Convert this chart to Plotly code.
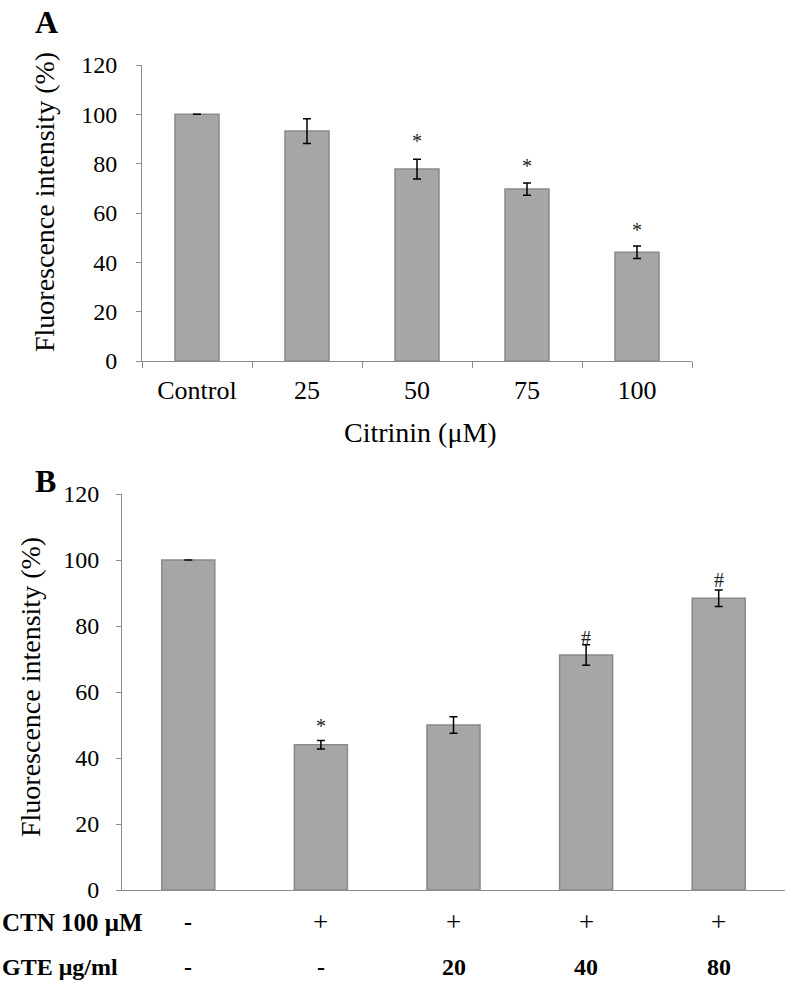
import plotly.graph_objects as go

# ---------------- data ----------------
a_categories = ["Control", "25", "50", "75", "100"]
a_values = [100, 93.2, 77.8, 69.7, 44.1]
a_errors = [0, 5.0, 4.0, 2.5, 2.5]
a_marks = ["", "", "*", "*", "*"]
a_mark_y = [None, None, 89.0, 79.2, 53.0]

b_positions = [0, 1, 2, 3, 4]
b_values = [100, 44.0, 50.0, 71.2, 88.4]
b_errors = [0, 1.3, 2.5, 3.1, 2.5]
b_marks = ["", "*", "", "#", "#"]
b_mark_y = [None, 49.8, None, 76.3, 94.0]
ctn_row = ["-", "+", "+", "+", "+"]
gte_row = ["-", "-", "20", "40", "80"]

y_ticks = [0, 20, 40, 60, 80, 100, 120]

FONT = "Liberation Serif, Times New Roman, serif"
W, H = 787, 982
BAR = "#a6a6a6"
EDGE = "#898989"
AXIS = "#8c8c8c"

def px_x(p):
    return p / W

def px_y(p):
    return 1 - p / H

fig = go.Figure()

fig.add_trace(go.Bar(
    x=a_categories, y=a_values, width=0.4,
    marker=dict(color=BAR, line=dict(color=EDGE, width=1.5)),
    error_y=dict(type="data", array=a_errors, visible=True,
                 color="black", thickness=1.5, width=4),
    xaxis="x", yaxis="y", showlegend=False,
))

fig.add_trace(go.Bar(
    x=b_positions, y=b_values, width=0.4,
    marker=dict(color=BAR, line=dict(color=EDGE, width=1.5)),
    error_y=dict(type="data", array=b_errors, visible=True,
                 color="black", thickness=1.5, width=4),
    xaxis="x2", yaxis="y2", showlegend=False,
))

axis_common = dict(showgrid=False, zeroline=False, showline=True,
                   linecolor=AXIS, linewidth=1, ticks="outside",
                   tickcolor=AXIS, tickwidth=1, automargin=False,
                   tickfont=dict(family=FONT, size=24, color="black"))

fig.update_layout(
    template="none",
    width=W, height=H, autosize=False,
    margin=dict(l=0, r=0, t=0, b=0, pad=0),
    paper_bgcolor="white", plot_bgcolor="white",
    font=dict(family=FONT, color="black"),
    bargap=0.6,
    xaxis=dict(domain=[px_x(142), px_x(692)], anchor="y",
               type="category", range=[-0.5, 4.5], tickson="boundaries",
               ticklen=6, ticklabelstandoff=6, tickangle=0,
               **{k: v for k, v in axis_common.items() if k != "tickfont"},
               tickfont=dict(family=FONT, size=26, color="black")),
    yaxis=dict(domain=[px_y(361), px_y(65)], anchor="x",
               range=[0, 120], tickvals=y_ticks, ticklen=5,
               ticklabelstandoff=14, **axis_common),
    xaxis2=dict(domain=[px_x(122), px_x(785)], anchor="y2",
                range=[-0.5, 4.5], showticklabels=False, ticks="",
                showgrid=False, zeroline=False, showline=True,
                automargin=False, linecolor=AXIS, linewidth=1),
    yaxis2=dict(domain=[px_y(890), px_y(494)], anchor="x2",
                range=[0, 120], tickvals=y_ticks, ticklen=5,
                ticklabelstandoff=12, **axis_common),
)

ann = []
# panel letters
ann.append(dict(text="<b>A</b>", x=px_x(46), y=px_y(22), xref="paper", yref="paper",
                showarrow=False, font=dict(family=FONT, size=32, color="black"),
                xanchor="center", yanchor="middle"))
ann.append(dict(text="<b>B</b>", x=px_x(45), y=px_y(481), xref="paper", yref="paper",
                showarrow=False, font=dict(family=FONT, size=32, color="black"),
                xanchor="center", yanchor="middle"))
# axis titles
ann.append(dict(text="Fluorescence intensity (%)", x=px_x(44), y=px_y(202),
                xref="paper", yref="paper", showarrow=False, textangle=-90,
                font=dict(family=FONT, size=28, color="black"),
                xanchor="center", yanchor="middle"))
ann.append(dict(text="Fluorescence intensity (%)", x=px_x(30), y=px_y(687),
                xref="paper", yref="paper", showarrow=False, textangle=-90,
                font=dict(family=FONT, size=28, color="black"),
                xanchor="center", yanchor="middle"))
ann.append(dict(text="Citrinin (μM)", x=px_x(421), y=px_y(432),
                xref="paper", yref="paper", showarrow=False,
                font=dict(family=FONT, size=28, color="black"),
                xanchor="center", yanchor="middle"))
# significance marks
for i, (m, yy) in enumerate(zip(a_marks, a_mark_y)):
    if m:
        ann.append(dict(text=m, x=i, y=yy, xref="x", yref="y", showarrow=False,
                        font=dict(family=FONT, size=20, color="#222"),
                        xanchor="center", yanchor="middle"))
for p, m, yy in zip(b_positions, b_marks, b_mark_y):
    if m:
        ann.append(dict(text=m, x=p, y=yy, xref="x2", yref="y2", showarrow=False,
                        font=dict(family=FONT, size=20, color="#222"),
                        xanchor="center", yanchor="middle"))
# treatment rows
ann.append(dict(text="<b>CTN 100 μM</b>", x=0, y=px_y(922), xref="paper", yref="paper",
                showarrow=False, font=dict(family=FONT, size=25, color="black"),
                xanchor="left", yanchor="middle"))
ann.append(dict(text="<b>GTE μg/ml</b>", x=0, y=px_y(967), xref="paper", yref="paper",
                showarrow=False, font=dict(family=FONT, size=24, color="black"),
                xanchor="left", yanchor="middle"))
for p, t in zip(b_positions, ctn_row):
    ann.append(dict(text=(t if t == "+" else "<b>" + t + "</b>"), x=p, y=px_y(922),
                    xref="x2", yref="paper", showarrow=False,
                    font=dict(family=FONT, size=27 if t == "+" else 24, color="black"),
                    xanchor="center", yanchor="middle"))
for p, t in zip(b_positions, gte_row):
    ann.append(dict(text="<b>" + t + "</b>", x=p, y=px_y(967),
                    xref="x2", yref="paper", showarrow=False,
                    font=dict(family=FONT, size=24, color="black"),
                    xanchor="center", yanchor="middle"))

fig.update_layout(annotations=ann)

fig.write_html("out.html", config={"displayModeBar": False},
               post_script="document.body.style.margin='0';document.body.style.overflow='hidden';")
